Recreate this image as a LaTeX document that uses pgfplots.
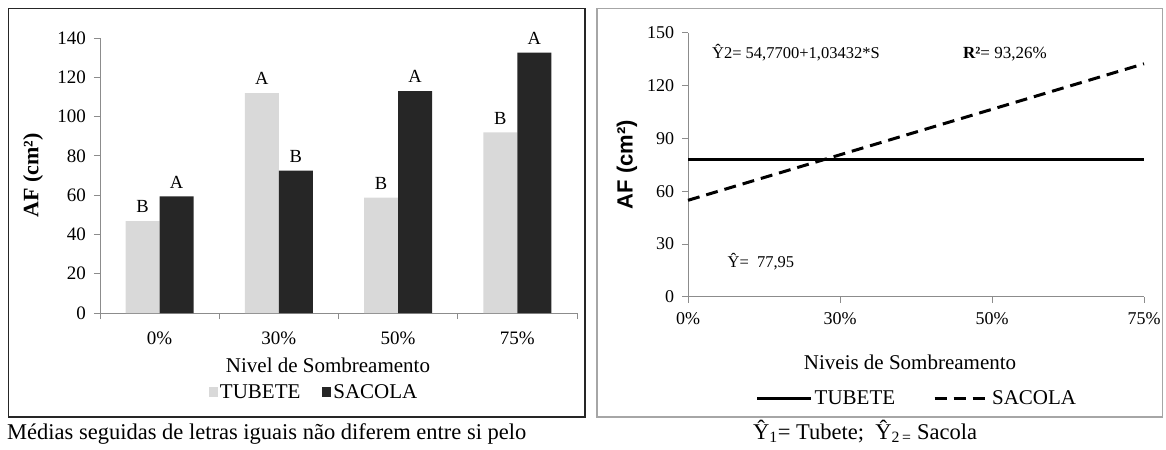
\documentclass[border=0pt]{standalone}
\usepackage{pgfplots}
\pgfplotsset{compat=1.18}
\usepackage{fontspec}
\setmainfont{Liberation Serif}
\newfontfamily\arialfont{Liberation Sans}
\definecolor{tubete}{HTML}{D9D9D9}
\definecolor{sacola}{HTML}{262626}
\definecolor{axisgray}{HTML}{8C8C8C}
\definecolor{framegray}{HTML}{A6A6A6}
\begin{document}
\begin{tikzpicture}
\useasboundingbox (0,0) rectangle (1166bp,-450bp);
\draw[black!85, line width=1.3bp] (8.5bp,-8.5bp) rectangle (585bp,-417bp);
\draw[framegray, line width=1.2bp] (597bp,-8.5bp) rectangle (1162.5bp,-417bp);

% ---------------- left: bar chart ----------------
\begin{axis}[
  at={(100bp,-313bp)}, anchor=south west,
  scale only axis, width=477bp, height=275bp,
  xmin=-0.5, xmax=3.5, ymin=0, ymax=140,
  ybar=0pt, bar width=34bp,
  axis x line*=bottom, axis y line*=left,
  axis line style={axisgray, line width=0.8bp},
  tick style={axisgray, line width=0.8bp},
  tick align=outside, tick pos=left,
  major tick length=6bp,
  /pgf/number format/assume math mode=true,
  ytick={0,20,...,140},
  xtick={-0.5,0.5,1.5,2.5,3.5},
  xticklabels={},
  extra x ticks={0,1,2,3},
  extra x tick labels={0\%,30\%,50\%,75\%},
  extra x tick style={major tick length=0pt},
  tick label style={font=\fontsize{19bp}{22bp}\selectfont, text=black},
  yticklabel style={xshift=-4.7bp},
  xticklabel style={yshift=-15bp},
  every axis y label/.style={at={(axis description cs:-0.1405,0.5)}, rotate=90, anchor=center},
  ylabel={\textbf{AF (cm²)}},
  ylabel style={font=\fontsize{22bp}{25bp}\selectfont},
  every axis x label/.style={at={(axis description cs:0.478,-0.189)}, anchor=center},
  xlabel={Nivel de Sombreamento},
  xlabel style={font=\fontsize{21bp}{24bp}\selectfont},
  nodes near coords, point meta=explicit symbolic,
  every node near coord/.append style={font=\fontsize{18.5bp}{20bp}\selectfont, text=black, inner sep=0pt, anchor=south, yshift=8bp},
  legend style={at={(axis description cs:0.449,-0.287)}, anchor=center, draw=none, fill=none,
    legend columns=2, font=\fontsize{21bp}{24bp}\selectfont,
    /tikz/every even column/.append style={column sep=20bp}},
  legend image code/.code={\path[#1] (0bp,-5bp) rectangle (9bp,5bp);},
  clip=false,
]
\addplot[fill=tubete, draw=none] table[x=x, y=y, meta=l] {
x y l
0 46.8 B
1 112.0 A
2 58.8 B
3 92.0 B
};
\addplot[fill=sacola, draw=none] table[x=x, y=y, meta=l] {
x y l
0 59.4 A
1 72.5 B
2 113.0 A
3 132.6 A
};
\legend{TUBETE, SACOLA}
\end{axis}

% ---------------- right: regression lines ----------------
\begin{axis}[
  at={(688bp,-296.7bp)}, anchor=south west,
  scale only axis, width=456bp, height=264bp,
  xmin=0, xmax=3, ymin=0, ymax=150,
  axis x line*=bottom, axis y line*=left,
  axis line style={axisgray, line width=0.8bp},
  tick style={axisgray, line width=0.8bp},
  tick align=outside, tick pos=left,
  major tick length=6bp,
  /pgf/number format/assume math mode=true,
  ytick={0,30,...,150},
  xtick={0,1,2,3},
  xticklabels={0\%,30\%,50\%,75\%},
  tick label style={font=\fontsize{18bp}{21bp}\selectfont, text=black},
  yticklabel style={xshift=-4.3bp},
  xticklabel style={yshift=-6bp},
  every axis y label/.style={at={(axis description cs:-0.1338,0.5)}, rotate=90, anchor=center},
  ylabel={\arialfont\bfseries AF (cm²)},
  ylabel style={font=\fontsize{22bp}{25bp}\selectfont},
  every axis x label/.style={at={(axis description cs:0.487,-0.247)}, anchor=center},
  xlabel={Niveis\ de Sombreamento},
  xlabel style={font=\fontsize{21bp}{24bp}\selectfont},
  legend style={at={(axis description cs:0.502,-0.384)}, anchor=center, draw=none, fill=none,
    legend columns=2, font=\fontsize{21bp}{24bp}\selectfont,
    /tikz/every even column/.append style={column sep=36bp}},
  legend image code/.code={\draw[#1] (0bp,0bp) -- (54bp,0bp);},
  clip=false,
]
\addplot[black, line width=3bp] coordinates {(0,77.95) (1,77.95) (2,77.95) (3,77.95)};
\addplot[black, line width=3bp, dash pattern=on 12bp off 7bp] coordinates {(0,54.77) (1,80.63) (2,106.49) (3,132.35)};
\legend{TUBETE, SACOLA}
\node[font=\fontsize{16.5bp}{19bp}\selectfont] at (axis cs:0.71,138.5) {Ŷ2= 54,7700+1,03432*S};
\node[font=\fontsize{17bp}{19bp}\selectfont] at (axis cs:2.085,138) {\textbf{R²}= 93,26\%};
\node[font=\fontsize{16.5bp}{19bp}\selectfont] at (axis cs:0.48,19.7) {Ŷ=\ \ 77,95};
\end{axis}

% captions
\node[anchor=base west, inner sep=0pt, font=\fontsize{22.5bp}{25bp}\selectfont] at (7bp,-439bp) {Médias seguidas de letras iguais não diferem entre si pelo};
\node[anchor=base west, inner sep=0pt, font=\fontsize{22.5bp}{25bp}\selectfont] at (753bp,-439bp) {Ŷ\textsubscript{1}= Tubete;\ \ Ŷ\textsubscript{2\,=} Sacola};
\end{tikzpicture}
\end{document}
